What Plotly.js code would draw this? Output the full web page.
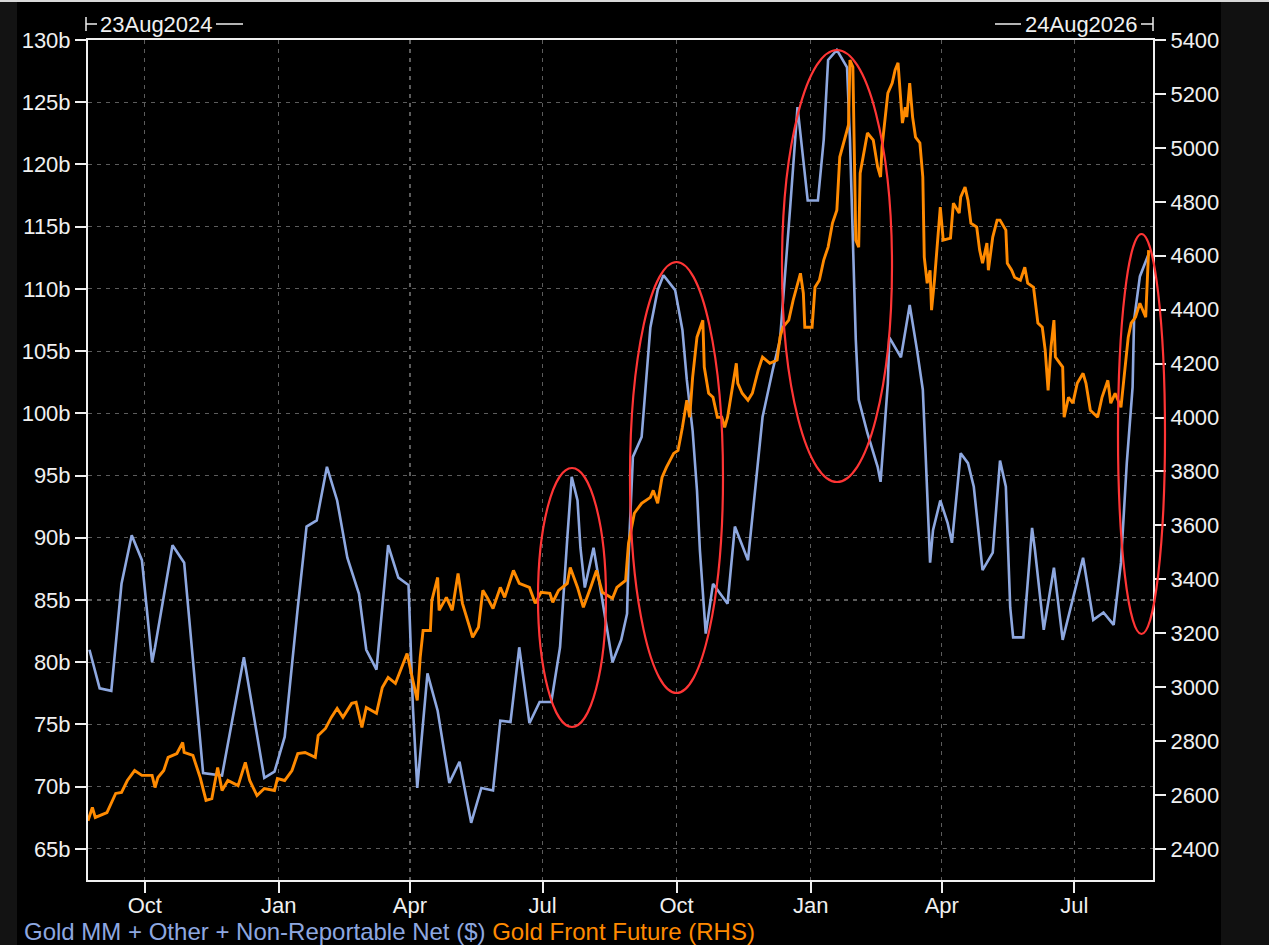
<!DOCTYPE html>
<html><head><meta charset="utf-8">
<script src="https://cdn.plot.ly/plotly-3.0.1.min.js"></script>
<style>
html,body{margin:0;padding:0;background:#000;width:1269px;height:945px;overflow:hidden;}
#chart{position:absolute;left:0;top:0;width:1269px;height:945px;}
.strip{position:absolute;}
</style></head><body>
<div id="chart"></div>
<div class="strip" style="left:0;top:0;width:17px;height:945px;background:#131313"></div>
<div class="strip" style="left:1221px;top:0;width:48px;height:945px;background:#111111"></div>
<div class="strip" style="left:0;top:0;width:1269px;height:2px;background:#d8d8d8"></div>
<script>
// Positioning series (billions USD)
const blueDates = ['2024-08-24','2024-08-31','2024-09-08','2024-09-15','2024-09-22','2024-09-29','2024-10-06','2024-10-08','2024-10-20','2024-10-28','2024-11-10','2024-11-23','2024-12-08','2024-12-22','2024-12-29','2025-01-05','2025-01-14','2025-01-20','2025-01-27','2025-02-03','2025-02-10','2025-02-17','2025-02-25','2025-03-02','2025-03-09','2025-03-13','2025-03-17','2025-03-24','2025-03-31','2025-04-03','2025-04-06','2025-04-13','2025-04-20','2025-04-28','2025-05-05','2025-05-13','2025-05-20','2025-05-28','2025-06-02','2025-06-09','2025-06-15','2025-06-22','2025-06-29','2025-07-07','2025-07-13','2025-07-18','2025-07-21','2025-07-25','2025-07-27','2025-07-30','2025-08-05','2025-08-11','2025-08-18','2025-08-24','2025-08-28','2025-08-29','2025-09-01','2025-09-07','2025-09-11','2025-09-13','2025-09-18','2025-09-22','2025-09-30','2025-10-05','2025-10-08','2025-10-12','2025-10-15','2025-10-17','2025-10-21','2025-10-26','2025-11-05','2025-11-10','2025-11-19','2025-11-24','2025-11-29','2025-12-06','2025-12-11','2025-12-18','2025-12-23','2025-12-26','2025-12-30','2026-01-06','2026-01-10','2026-01-13','2026-01-19','2026-01-26','2026-01-28','2026-01-30','2026-02-01','2026-02-03','2026-02-09','2026-02-16','2026-02-18','2026-02-23','2026-02-24','2026-03-04','2026-03-10','2026-03-15','2026-03-19','2026-03-21','2026-03-24','2026-03-26','2026-03-31','2026-04-05','2026-04-08','2026-04-14','2026-04-19','2026-04-23','2026-04-29','2026-05-06','2026-05-11','2026-05-15','2026-05-18','2026-05-20','2026-05-27','2026-06-02','2026-06-04','2026-06-10','2026-06-17','2026-06-23','2026-06-30','2026-07-07','2026-07-14','2026-07-21','2026-07-28','2026-08-02','2026-08-06','2026-08-10','2026-08-11','2026-08-15','2026-08-21'];
const blueVals = [81.0,77.9,77.7,86.3,90.2,88.2,80.0,81.2,89.4,88.0,71.1,70.9,80.4,70.7,71.2,74.0,84.4,90.9,91.4,95.7,93.0,88.4,85.5,81.0,79.4,84.4,89.4,86.8,86.2,76.4,69.9,79.1,76.1,70.3,72.0,67.1,69.9,69.7,75.3,75.2,81.2,75.1,76.8,76.8,81.2,90.0,94.9,93.0,89.2,86.0,89.2,85.0,80.0,81.8,83.9,88.4,96.5,98.1,103.7,106.9,109.9,111.1,109.9,106.7,102.7,98.6,93.8,89.0,82.3,86.3,84.7,90.9,88.2,94.1,99.7,103.5,105.9,116.6,124.6,121.4,117.1,117.1,122.0,128.4,129.2,127.8,122.0,113.9,105.9,101.1,98.4,95.7,94.5,102.4,106.1,104.5,108.7,105.1,101.9,96.5,88.0,90.6,93.0,91.2,89.6,96.8,96.0,94.1,87.4,88.8,96.2,94.1,84.4,82.0,82.0,90.8,89.0,82.6,87.6,81.8,85.2,88.4,83.4,84.0,83.0,88.0,96.0,102.1,107.5,111.0,112.8];

// Gold front future (RHS)
const goldDates = ['2024-08-23','2024-08-26','2024-08-28','2024-09-05','2024-09-11','2024-09-15','2024-09-19','2024-09-24','2024-09-29','2024-10-06','2024-10-08','2024-10-10','2024-10-14','2024-10-17','2024-10-23','2024-10-27','2024-10-28','2024-11-03','2024-11-08','2024-11-12','2024-11-16','2024-11-20','2024-11-23','2024-11-27','2024-12-04','2024-12-09','2024-12-12','2024-12-17','2024-12-22','2024-12-29','2024-12-31','2025-01-05','2025-01-10','2025-01-14','2025-01-19','2025-01-26','2025-01-28','2025-02-02','2025-02-06','2025-02-10','2025-02-14','2025-02-20','2025-02-23','2025-02-27','2025-03-02','2025-03-09','2025-03-13','2025-03-17','2025-03-22','2025-03-26','2025-03-30','2025-04-03','2025-04-06','2025-04-08','2025-04-10','2025-04-15','2025-04-16','2025-04-20','2025-04-21','2025-04-26','2025-04-30','2025-05-04','2025-05-07','2025-05-12','2025-05-14','2025-05-18','2025-05-21','2025-05-24','2025-05-28','2025-06-02','2025-06-05','2025-06-11','2025-06-15','2025-06-22','2025-06-26','2025-06-30','2025-07-06','2025-07-08','2025-07-12','2025-07-18','2025-07-20','2025-07-25','2025-07-29','2025-08-03','2025-08-07','2025-08-11','2025-08-18','2025-08-21','2025-08-27','2025-08-29','2025-09-02','2025-09-07','2025-09-13','2025-09-15','2025-09-18','2025-09-21','2025-09-24','2025-09-29','2025-10-02','2025-10-05','2025-10-08','2025-10-10','2025-10-12','2025-10-15','2025-10-19','2025-10-20','2025-10-23','2025-10-26','2025-10-29','2025-11-01','2025-11-03','2025-11-05','2025-11-11','2025-11-12','2025-11-15','2025-11-19','2025-11-22','2025-11-26','2025-11-29','2025-12-04','2025-12-09','2025-12-11','2025-12-13','2025-12-17','2025-12-20','2025-12-25','2025-12-27','2025-12-28','2026-01-02','2026-01-04','2026-01-07','2026-01-10','2026-01-13','2026-01-16','2026-01-19','2026-01-21','2026-01-25','2026-01-27','2026-01-28','2026-01-30','2026-02-01','2026-02-03','2026-02-04','2026-02-07','2026-02-09','2026-02-13','2026-02-16','2026-02-18','2026-02-19','2026-02-23','2026-02-26','2026-02-28','2026-03-02','2026-03-05','2026-03-07','2026-03-08','2026-03-10','2026-03-12','2026-03-14','2026-03-17','2026-03-19','2026-03-20','2026-03-22','2026-03-24','2026-03-25','2026-03-27','2026-03-31','2026-04-02','2026-04-07','2026-04-09','2026-04-13','2026-04-14','2026-04-17','2026-04-19','2026-04-21','2026-04-25','2026-04-27','2026-04-29','2026-05-02','2026-05-03','2026-05-06','2026-05-09','2026-05-11','2026-05-15','2026-05-16','2026-05-19','2026-05-21','2026-05-25','2026-05-28','2026-05-30','2026-06-03','2026-06-06','2026-06-09','2026-06-11','2026-06-13','2026-06-15','2026-06-17','2026-06-18','2026-06-23','2026-06-24','2026-06-27','2026-06-30','2026-07-03','2026-07-07','2026-07-09','2026-07-12','2026-07-17','2026-07-20','2026-07-24','2026-07-26','2026-07-29','2026-08-02','2026-08-05','2026-08-07','2026-08-09','2026-08-12','2026-08-15','2026-08-19','2026-08-21'];
const goldVals = [2505,2554,2517,2535,2606,2610,2654,2691,2673,2673,2628,2665,2691,2740,2754,2795,2758,2747,2665,2580,2587,2702,2617,2654,2635,2721,2654,2598,2624,2617,2661,2654,2691,2754,2758,2740,2821,2847,2888,2921,2888,2940,2944,2851,2925,2903,2999,3036,3014,3073,3125,3025,2951,3110,3210,3210,3322,3407,3285,3333,3285,3422,3311,3222,3185,3222,3359,3333,3292,3370,3333,3433,3385,3370,3311,3352,3348,3315,3359,3385,3444,3370,3296,3370,3433,3352,3329,3370,3396,3533,3645,3682,3704,3730,3682,3778,3815,3867,3878,3964,4064,4001,4149,4298,4361,4187,4090,4075,4001,4001,3964,4001,4201,4127,4090,4064,4090,4175,4224,4201,4213,4298,4335,4361,4435,4535,4461,4335,4335,4483,4509,4584,4632,4721,4769,4966,5040,5085,5326,5300,4658,4632,4906,4992,5055,5029,4929,4892,5003,5203,5240,5289,5315,5092,5151,5114,5240,5114,5040,5018,4892,4595,4498,4546,4398,4509,4780,4658,4665,4795,4758,4817,4855,4806,4721,4706,4621,4572,4647,4546,4669,4732,4732,4695,4572,4546,4520,4509,4557,4498,4483,4350,4335,4250,4101,4261,4361,4224,4187,4001,4075,4053,4127,4164,4127,4027,4001,4075,4138,4053,4090,4038,4201,4298,4350,4372,4424,4372,4621];

const xTickVals = ['2024-10-01','2025-01-01','2025-04-01','2025-07-01','2025-10-01','2026-01-01','2026-04-01','2026-07-01'];
const xTickText = ['Oct','Jan','Apr','Jul','Oct','Jan','Apr','Jul'];
const yLeftTicks = [65,70,75,80,85,90,95,100,105,110,115,120,125,130];
const yLeftText = yLeftTicks.map(v => v + 'b');
const yRightTicks = [2400,2600,2800,3000,3200,3400,3600,3800,4000,4200,4400,4600,4800,5000,5200,5400];
const startLabel = '23Aug2024';
const endLabel = '24Aug2026';
const blueName = 'Gold MM + Other + Non-Reportable Net ($)';
const goldName = 'Gold Front Future (RHS)';

const BLUE = '#8ea8e0', ORANGE = '#ff8a00', FONT = 'Liberation Sans, Arial, sans-serif';
const tickFont = {family: FONT, size: 22, color: '#f0f0f0'};

const traces = [
  {x: blueDates, y: blueVals, type: 'scatter', mode: 'lines', yaxis: 'y',
   line: {color: BLUE, width: 2.6}, name: blueName, hoverinfo: 'skip'},
  {x: goldDates, y: goldVals, type: 'scatter', mode: 'lines', yaxis: 'y2',
   line: {color: ORANGE, width: 2.9}, name: goldName, hoverinfo: 'skip'}
];

function px(x){ return (x - 88) / 1065; }
function py(y){ return (880 - y) / 840; }
const white = {color: '#f0f0f0', width: 1.5};
const red = {color: '#ff3535', width: 2.2};
const shapes = [
  {type:'line', xref:'paper', yref:'paper', x0:px(86), x1:px(86), y0:py(17), y1:py(31), line:white},
  {type:'line', xref:'paper', yref:'paper', x0:px(86), x1:px(97), y0:py(24), y1:py(24), line:white},
  {type:'line', xref:'paper', yref:'paper', x0:px(216), x1:px(243), y0:py(24), y1:py(24), line:white},
  {type:'line', xref:'paper', yref:'paper', x0:px(995), x1:px(1021), y0:py(24), y1:py(24), line:white},
  {type:'line', xref:'paper', yref:'paper', x0:px(1141), x1:px(1153), y0:py(24), y1:py(24), line:white},
  {type:'line', xref:'paper', yref:'paper', x0:px(1153), x1:px(1153), y0:py(17), y1:py(31), line:white},
  {type:'circle', xref:'paper', yref:'paper', x0:px(538), x1:px(606), y0:py(727), y1:py(468), line:red},
  {type:'circle', xref:'paper', yref:'paper', x0:px(630), x1:px(723), y0:py(693), y1:py(262), line:red},
  {type:'circle', xref:'paper', yref:'paper', x0:px(782), x1:px(892), y0:py(482), y1:py(50), line:red},
  {type:'circle', xref:'paper', yref:'paper', x0:px(1118), x1:px(1165), y0:py(634), y1:py(234), line:red}
];
const annotations = [
  {xref:'paper', yref:'paper', x:px(156), y:py(24), text:startLabel, showarrow:false,
   xanchor:'center', yanchor:'middle', font:{family:FONT, size:22, color:'#f0f0f0'}},
  {xref:'paper', yref:'paper', x:px(1081), y:py(24), text:endLabel, showarrow:false,
   xanchor:'center', yanchor:'middle', font:{family:FONT, size:22, color:'#f0f0f0'}},
  {xref:'paper', yref:'paper', x:px(22), y:py(931), showarrow:false, xanchor:'left', yanchor:'middle',
   text:'<span style="color:' + BLUE + '">' + blueName + '</span> <span style="color:' + ORANGE + '">' + goldName + '</span>',
   font:{family:FONT, size:24, color:BLUE}}
];

const layout = {
  width: 1269, height: 945,
  margin: {l: 88, r: 116, t: 40, b: 65, pad: 0},
  paper_bgcolor: '#000', plot_bgcolor: '#000',
  showlegend: false,
  font: {family: FONT, color: '#f0f0f0'},
  xaxis: {type:'date', range:['2024-08-23','2026-08-24'], tickvals:xTickVals, ticktext:xTickText,
    ticks:'outside', ticklen:11, tickwidth:2, tickcolor:'#f0f0f0', showline:true, linecolor:'#f0f0f0',
    linewidth:2, mirror:true, showgrid:true, gridcolor:'#5c5c5c', griddash:'4px,5px', gridwidth:1.2,
    zeroline:false, tickfont:tickFont, ticklabelstandoff:-6},
  yaxis: {range:[62.5,130], tickvals:yLeftTicks, ticktext:yLeftText, ticks:'outside', ticklen:11,
    tickwidth:2, tickcolor:'#f0f0f0', showline:true, linecolor:'#f0f0f0', linewidth:2,
    showgrid:true, gridcolor:'#5c5c5c', griddash:'4px,5px', gridwidth:1.2, zeroline:false, tickfont:tickFont},
  yaxis2: {range:[2285,5400], tickvals:yRightTicks, overlaying:'y', side:'right', ticks:'outside',
    ticklen:11, tickwidth:2, tickcolor:'#f0f0f0', showline:true, linecolor:'#f0f0f0', linewidth:2,
    showgrid:false, zeroline:false, tickfont:tickFont},
  shapes: shapes,
  annotations: annotations
};
Plotly.newPlot('chart', traces, layout, {staticPlot: true, displayModeBar: false});
</script>
</body></html>
